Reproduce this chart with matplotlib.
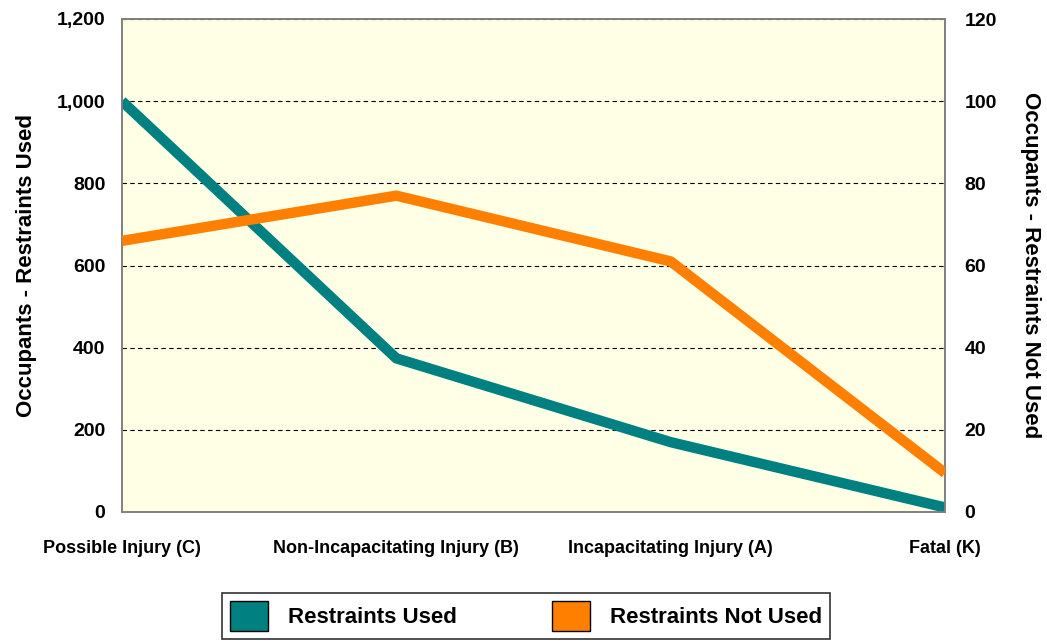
import matplotlib.pyplot as plt
from matplotlib.patches import Patch
from matplotlib.ticker import FuncFormatter

plt.rcParams['font.family'] = ['Liberation Sans', 'DejaVu Sans']
plt.rcParams['font.weight'] = 'bold'

categories = ["Possible Injury (C)", "Non-Incapacitating Injury (B)",
              "Incapacitating Injury (A)", "Fatal (K)"]
restraints_used = [1000, 374, 170, 11]
restraints_not_used = [66, 77, 61, 9.5]

teal = '#008080'
orange = '#FF8000'

fig = plt.figure(figsize=(10.47, 6.42), dpi=100)
ax = fig.add_axes([122 / 1047, 1 - 512 / 642, (945 - 122) / 1047, (512 - 19) / 642])
ax2 = ax.twinx()

x = list(range(len(categories)))
ax.set_facecolor('#FFFFE6')
ax.plot(x, restraints_used, color=teal, lw=7.5, solid_capstyle='butt', zorder=3)
ax2.plot(x, restraints_not_used, color=orange, lw=7.5, solid_capstyle='butt', zorder=3)

ax.set_xlim(0, 3)
ax.set_ylim(0, 1200)
ax2.set_ylim(0, 120)
ax.set_yticks(range(0, 1201, 200))
ax2.set_yticks(range(0, 121, 20))
ax.yaxis.set_major_formatter(FuncFormatter(lambda v, p: f"{int(v):,}"))
ax.set_xticks(x)
ax.set_xticklabels(categories)

ax.grid(axis='y', color='black', linestyle=(0, (4, 3)), linewidth=0.8)
ax.set_axisbelow(True)

for a in (ax, ax2):
    a.tick_params(length=0, labelsize=14)
    for s in a.spines.values():
        s.set_color('#808080')
        s.set_linewidth(1.2)
ax.tick_params(axis='x', labelsize=13, pad=20)
ax.tick_params(axis='y', pad=12)
ax2.tick_params(axis='y', pad=14)

ax.set_ylabel("Occupants - Restraints Used", fontsize=16, fontweight='bold',
              labelpad=14)
ax2.set_ylabel("Occupants - Restraints Not Used", fontsize=16, fontweight='bold',
               rotation=270, labelpad=32)

handles = [Patch(facecolor=teal, edgecolor='black', label='Restraints Used'),
           Patch(facecolor=orange, edgecolor='black', label='Restraints Not Used')]
leg = fig.legend(handles=handles, loc='center', bbox_to_anchor=(526 / 1047, 1 - 616 / 642),
                 ncol=2, fontsize=16, frameon=True, fancybox=False, edgecolor='black',
                 handlelength=1.7, handleheight=1.7, columnspacing=4.3,
                 borderpad=0.35, handletextpad=0.9)
leg.get_frame().set_linewidth(1.2)

fig.savefig('out.png', dpi=100)
